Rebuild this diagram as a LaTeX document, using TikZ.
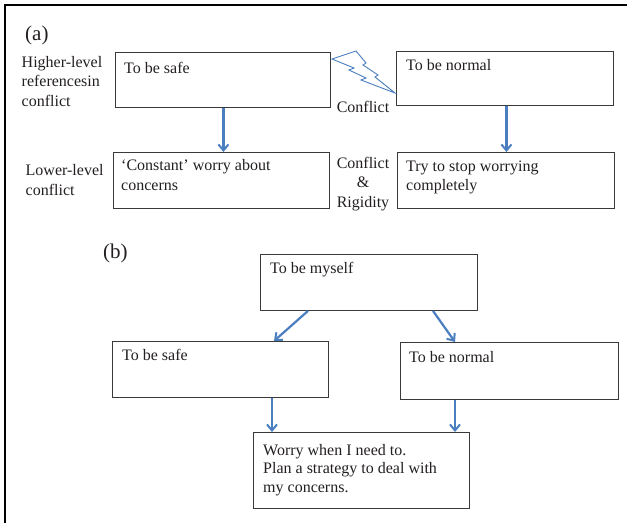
\documentclass[tikz,border=0pt]{standalone}
\usepackage{fontspec}
\setmainfont{Liberation Serif}
\usetikzlibrary{arrows.meta,calc}
\definecolor{arrblue}{HTML}{4A7EBF}
\definecolor{boxgray}{HTML}{3A3A3A}
\definecolor{txt}{HTML}{231F20}
\tikzset{
  box/.style={draw=boxgray, line width=0.9pt, rectangle, inner sep=0pt, anchor=north west},
  txtnode/.style={inner sep=0pt, anchor=base west, align=left, text=txt,
    font=\fontsize{16}{19.5}\selectfont},
  ctrnode/.style={inner sep=0pt, anchor=base, align=center, text=txt,
    font=\fontsize{16}{19.5}\selectfont},
  tagnode/.style={inner sep=0pt, anchor=base west, text=txt,
    font=\fontsize{21}{24}\selectfont},
  arr/.style={draw=arrblue, line width=2.2pt, -{Straight Barb[length=6pt,width=10pt,line width=2pt]}},
  bolt/.style={draw=arrblue, line width=0.9pt, line join=miter, fill=white},
  frame/.style={draw=black, line width=2pt}
}
\begin{document}
\begin{tikzpicture}[x=1pt,y=-1pt]
\useasboundingbox (0,0) rectangle (627,523);
% frame (top and left edges)
\draw[frame] (627,4.8) -- (5,4.8) -- (5,523);

% ---------- (a) ----------
\node[tagnode] (tagA) at (25,40) {(a)};
\node[txtnode] (hl) at (21.5,106) {Higher-level\\referencesin\\conflict};
\node[txtnode] (ll) at (25.5,195) {Lower-level\\conflict};

\node[box, minimum width=215pt, minimum height=55pt] (a1) at (115,52) {};
\node[box, minimum width=217pt, minimum height=54pt] (a2) at (396,51) {};
\node[box, minimum width=216pt, minimum height=56pt] (a3) at (113,152) {};
\node[box, minimum width=217pt, minimum height=56pt] (a4) at (397,152) {};

\node[txtnode] (a1t) at (124,73) {To be safe};
\node[txtnode] (a2t) at (406,70) {To be normal};
\node[txtnode] (a3t) at (121,190) {‘Constant’ worry about\\concerns};
\node[txtnode] (a4t) at (406,190.5) {Try to stop worrying\\completely};

\node[ctrnode] (cf) at (363,112) {Conflict};
\node[ctrnode] (cr) at (363,207) {Conflict\\\&\\Rigidity};

\draw[bolt] (332,59) -- (356,51) -- (366,63) -- (363,65) -- (378,75) -- (375,77)
  -- (395,93) -- (361,80) -- (366,78) -- (349,70) -- (354,68) -- cycle;

\draw[arr] ([xshift=0.5pt]a1.south) -- ([xshift=0.5pt]a1.south |- a3.north);
\draw[arr] ([xshift=1.5pt]a2.south) -- ([xshift=1.5pt]a2.south |- a4.north);

% ---------- (b) ----------
\node[tagnode] (tagB) at (103,258) {(b)};

\node[box, minimum width=217pt, minimum height=56pt] (b1) at (260,254) {};
\node[box, minimum width=216pt, minimum height=56pt] (b2) at (112,341) {};
\node[box, minimum width=218pt, minimum height=57pt] (b3) at (400,342) {};
\node[box, minimum width=216pt, minimum height=76pt] (b4) at (253,432) {};

\node[txtnode] (b1t) at (270,273.5) {To be myself};
\node[txtnode] (b2t) at (122,360.5) {To be safe};
\node[txtnode] (b3t) at (409,362.5) {To be normal};
\node[txtnode, font=\fontsize{16}{18.2}\selectfont] (b4t) at (263,492) {Worry when I need to.\\Plan a strategy to deal with\\my concerns.};

\draw[arr] ([xshift=48pt]b1.south west) -- ([xshift=162pt]b2.north west);
\draw[arr] ([xshift=173pt]b1.south west) -- ([xshift=55pt]b3.north west);
\draw[arr] ([xshift=160pt]b2.south west) -- ([xshift=160pt]b2.south west |- b4.north);
\draw[arr] ([xshift=55pt]b3.south west) -- ([xshift=55pt]b3.south west |- b4.north);
\end{tikzpicture}
\end{document}
